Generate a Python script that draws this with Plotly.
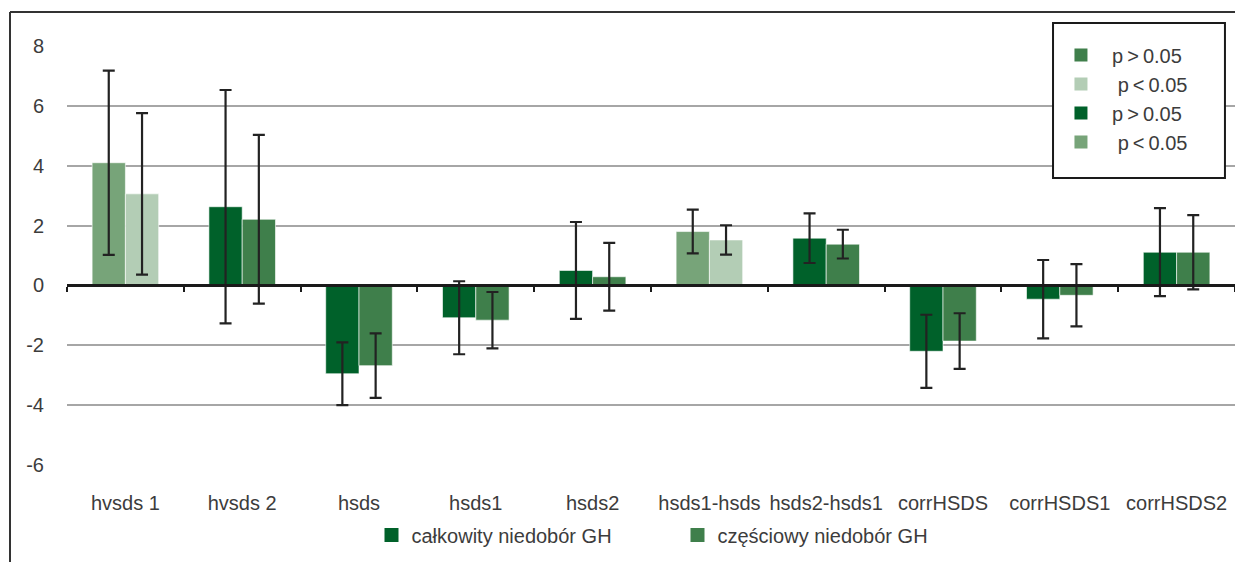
import plotly.graph_objects as go

categories = ['hvsds 1', 'hvsds 2', 'hsds', 'hsds1', 'hsds2', 'hsds1-hsds',
              'hsds2-hsds1', 'corrHSDS', 'corrHSDS1', 'corrHSDS2']
calkowity = [4.1, 2.63, -2.95, -1.08, 0.5, 1.8, 1.58, -2.2, -0.46, 1.11]
calkowity_err = [3.08, 3.9, 1.05, 1.22, 1.62, 0.73, 0.83, 1.22, 1.31, 1.47]
czesciowy = [3.06, 2.21, -2.68, -1.16, 0.29, 1.52, 1.38, -1.86, -0.33, 1.11]
czesciowy_err = [2.7, 2.82, 1.08, 0.94, 1.13, 0.49, 0.48, 0.93, 1.04, 1.24]

y_tickvals = [-6, -4, -2, 0, 2, 4, 6, 8]
y_ticktext = ['-6', '-4', '-2', '0', '2', '4', '6', '8']

DARK = '#00612a'
MED = '#3f7f4b'
LIGHT = '#77a479'
PALE = '#b3cdb5'
calkowity_colors = [LIGHT, DARK, DARK, DARK, DARK, LIGHT, DARK, DARK, DARK, DARK]
czesciowy_colors = [PALE, MED, MED, MED, MED, PALE, MED, MED, MED, MED]

legend_box_names = ['p\u2009>\u20090.05', 'p\u2009<\u20090.05',
                    'p\u2009>\u20090.05', 'p\u2009<\u20090.05']
legend_box_colors = [MED, PALE, DARK, LIGHT]

FONT = 'Liberation Sans'
TXT = '#3c3c3c'
ERR = dict(type='data', visible=True, color='#222222', thickness=2.2, width=6)

fig = go.Figure()
fig.add_trace(go.Bar(x=categories, y=calkowity, marker_color=calkowity_colors,
                     marker_line=dict(color='rgba(255,255,255,0.6)', width=1),
                     error_y=dict(array=calkowity_err, **ERR),
                     showlegend=False, name='całkowity niedobór GH'))
fig.add_trace(go.Bar(x=categories, y=czesciowy, marker_color=czesciowy_colors,
                     marker_line=dict(color='rgba(255,255,255,0.6)', width=1),
                     error_y=dict(array=czesciowy_err, **ERR),
                     showlegend=False, name='częściowy niedobór GH'))

# bottom legend entries
for nm, col in [('całkowity niedobór GH', DARK), ('częściowy niedobór GH', MED)]:
    fig.add_trace(go.Scatter(x=categories, y=[None] * len(categories), xaxis='x2',
                             mode='markers', name=nm, legend='legend',
                             marker=dict(symbol='square', size=14, color=col),
                             hoverinfo='skip'))

# boxed legend entries
for i, (nm, col) in enumerate(zip(legend_box_names, legend_box_colors)):
    pad = '\u00a0' * (2 if '>' in nm else 3)
    fig.add_trace(go.Scatter(x=categories, y=[None] * len(categories), xaxis='x2',
                             mode='markers', name=pad + nm,
                             legend='legend2', legendgroup='g%d' % i,
                             marker=dict(symbol='square', size=13, color=col),
                             hoverinfo='skip'))

fig.update_layout(
    width=1235, height=554,
    margin=dict(l=59, r=8, t=38, b=97),
    paper_bgcolor='white', plot_bgcolor='white',
    barmode='group', bargap=0.43, bargroupgap=0,
    font=dict(family=FONT, size=20, color=TXT),
    xaxis=dict(type='category', categoryorder='array', categoryarray=categories,
               range=[-0.5, 9.5], showgrid=False, showline=False, ticks='',
               ticklabelstandoff=24, tickfont=dict(size=20, color=TXT)),
    xaxis2=dict(type='category', categoryorder='array', categoryarray=categories,
                range=[-0.5, 9.5], overlaying='x', anchor='free', position=6 / 14,
                side='bottom', showline=True, linecolor='#1a1a1a', linewidth=3,
                ticks='outside', tickson='boundaries', ticklen=5, tickwidth=2,
                tickcolor='#1a1a1a', showticklabels=False, showgrid=False),
    yaxis=dict(range=[-6, 8], tickvals=y_tickvals, ticktext=y_ticktext,
               showgrid=True, gridcolor='#a6a6a6', gridwidth=2, zeroline=False,
               showline=False, ticks='', ticklabelstandoff=22,
               tickfont=dict(size=20, color=TXT)),
    legend=dict(orientation='h', x=0.2607, xanchor='left', y=-0.167, yanchor='middle',
                entrywidth=261, entrywidthmode='pixels',
                font=dict(size=20, color=TXT), bgcolor='rgba(0,0,0,0)'),
    legend2=dict(orientation='v', x=0.851, xanchor='left', y=1.025, yanchor='top',
                 borderwidth=0, bgcolor='rgba(0,0,0,0)', tracegroupgap=0,
                 font=dict(size=20, color=TXT)),
    shapes=[
        dict(type='line', xref='paper', yref='paper', x0=-0.0488, x1=-0.0488,
             y0=1.081, y1=-0.25, line=dict(color='#333333', width=2)),
        dict(type='line', xref='paper', yref='paper', x0=-0.0488, x1=1.02,
             y0=1.081, y1=1.081, line=dict(color='#333333', width=2)),
        dict(type='rect', xref='paper', yref='paper', x0=0.8442, x1=0.9914,
             y0=0.685, y1=1.0549, fillcolor='white', layer='above',
             line=dict(color='#1a1a1a', width=2)),
    ],
)

fig.write_html('out.html')
